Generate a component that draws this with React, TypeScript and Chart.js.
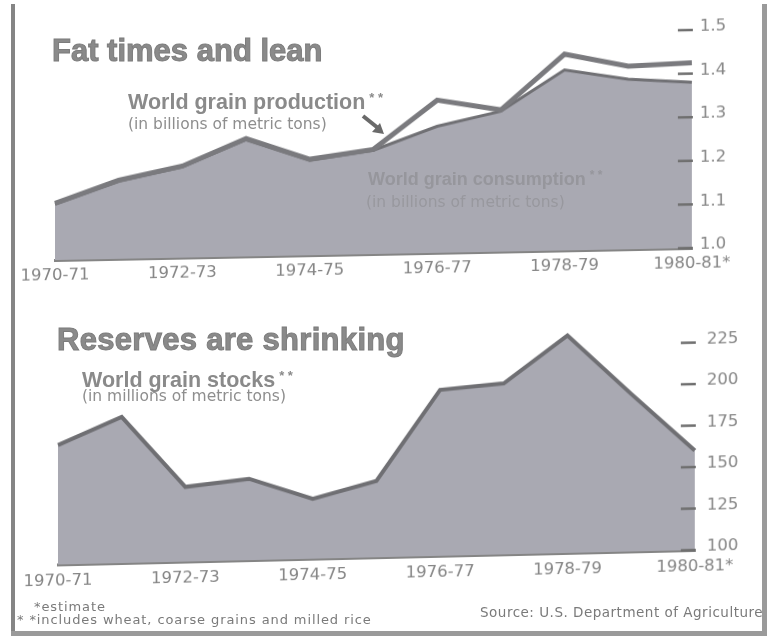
import React, { useEffect, useRef } from 'react';
import { Chart, registerables } from 'chart.js';

Chart.register(...registerables);

// ---- data ----
const years = ['1970-71', '1971-72', '1972-73', '1973-74', '1974-75', '1975-76', '1976-77', '1977-78', '1978-79', '1979-80', '1980-81*'];
const production = [1.13, 1.18, 1.21, 1.27, 1.22, 1.24, 1.35, 1.325, 1.45, 1.42, 1.425];
const consumption = [1.128, 1.178, 1.208, 1.268, 1.218, 1.238, 1.29, 1.322, 1.414, 1.39, 1.38];
const stocks = [172, 188, 145, 149, 136, 146, 200, 203, 231, 195, 160];
const productionTicks = [1.0, 1.1, 1.2, 1.3, 1.4, 1.5];
const stockTicks = [100, 125, 150, 175, 200, 225];

const TEXT = '#858585';
const FILL = '#a9a9b2';

const tickDash = {
  id: 'tickDash',
  afterDatasetsDraw(chart: any) {
    const { ctx, chartArea, scales } = chart;
    const y = scales.y;
    ctx.save();
    ctx.strokeStyle = '#6f6f6f';
    ctx.lineWidth = 2.5;
    y.ticks.forEach((t: any) => {
      const py = y.getPixelForValue(t.value);
      ctx.beginPath();
      ctx.moveTo(chartArea.right - 14, py);
      ctx.lineTo(chartArea.right + 1, py);
      ctx.stroke();
    });
    ctx.restore();
  },
};

function baseOptions(opts: {
  padLeft: number; padTop: number; xHeight: number; yWidth: number;
  min: number; max: number; ticks: number[]; fmt: (v: number) => string;
  xPad: number; yPad: number;
}) {
  return {
    responsive: false,
    animation: false as const,
    layout: { padding: { left: opts.padLeft, top: opts.padTop, right: 0, bottom: 0 } },
    plugins: { legend: { display: false }, tooltip: { enabled: false } },
    elements: { point: { radius: 0 }, line: { tension: 0 } },
    scales: {
      x: {
        type: 'category' as const,
        offset: false,
        grid: { display: false, drawTicks: false },
        border: { display: true, color: '#858585', width: 3 },
        ticks: {
          autoSkip: false,
          maxRotation: 0,
          minRotation: 0,
          padding: opts.xPad,
          color: TEXT,
          font: { family: 'DejaVu Sans', size: 16.5 },
          callback: (_v: any, i: number) => (i % 2 === 0 ? years[i] : ''),
        },
        afterFit: (s: any) => { s.height = opts.xHeight; },
      },
      y: {
        position: 'right' as const,
        min: opts.min,
        max: opts.max,
        grid: { display: false, drawTicks: false },
        border: { display: false },
        afterBuildTicks: (s: any) => { s.ticks = opts.ticks.map((v) => ({ value: v })); },
        ticks: {
          padding: opts.yPad,
          labelOffset: -3,
          color: TEXT,
          font: { family: 'DejaVu Sans', size: 16.5 },
          callback: (v: any) => opts.fmt(Number(v)),
        },
        afterFit: (s: any) => { s.width = opts.yWidth; },
      },
    },
  };
}

function TopChart() {
  const ref = useRef<HTMLCanvasElement>(null);
  useEffect(() => {
    const chart = new Chart(ref.current!, {
      type: 'line',
      data: {
        labels: years,
        datasets: [
          {
            label: 'World grain production',
            data: production,
            borderColor: '#7a7a7e',
            borderWidth: 5,
            fill: false,
            pointRadius: 0,
          },
          {
            label: 'World grain consumption',
            data: consumption,
            borderColor: '#707074',
            borderWidth: 3,
            backgroundColor: FILL,
            fill: 'start',
            pointRadius: 0,
          },
        ],
      },
      options: baseOptions({
        padLeft: 55, padTop: 30, xHeight: 42, yWidth: 75,
        min: 1.0, max: 1.5, ticks: productionTicks, fmt: (v) => v.toFixed(1),
        xPad: 6, yPad: 8,
      }) as any,
      plugins: [tickDash],
    });
    return () => chart.destroy();
  }, []);
  return (
    <canvas
      ref={ref}
      width={767}
      height={290}
      style={{ position: 'absolute', left: 0, top: 0, width: 767, height: 290, transform: 'skewY(-1.08deg)', transformOrigin: '692px 0px' }}
    />
  );
}

function BottomChart() {
  const ref = useRef<HTMLCanvasElement>(null);
  useEffect(() => {
    const chart = new Chart(ref.current!, {
      type: 'line',
      data: {
        labels: years,
        datasets: [
          {
            label: 'World grain stocks',
            data: stocks,
            borderColor: '#6f6f73',
            borderWidth: 4,
            backgroundColor: FILL,
            fill: 'start',
            pointRadius: 0,
          },
        ],
      },
      options: baseOptions({
        padLeft: 58, padTop: 26, xHeight: 40, yWidth: 72,
        min: 100, max: 235, ticks: stockTicks, fmt: (v) => String(v),
        xPad: 7, yPad: 12,
      }) as any,
      plugins: [tickDash],
    });
    return () => chart.destroy();
  }, []);
  return (
    <canvas
      ref={ref}
      width={767}
      height={290}
      style={{ position: 'absolute', left: 0, top: 300, width: 767, height: 290, transform: 'skewY(-1.3deg)', transformOrigin: '695px 0px' }}
    />
  );
}

const abs = (left: number, top: number, extra: React.CSSProperties = {}): React.CSSProperties => ({
  position: 'absolute', left, top, lineHeight: 1, whiteSpace: 'nowrap', margin: 0, ...extra,
});

const titleStyle: React.CSSProperties = {
  fontFamily: '"Liberation Sans", Arial, sans-serif',
  fontWeight: 700,
  fontSize: 31,
  color: '#8a8a8a',
  WebkitTextStroke: '1px #7c7c7c',
};
const subStyle: React.CSSProperties = {
  fontFamily: '"Liberation Sans", Arial, sans-serif',
  fontWeight: 700,
  fontSize: 21.5,
  color: '#8a8a8a',
};
const noteStyle: React.CSSProperties = {
  fontFamily: '"DejaVu Sans", sans-serif',
  fontSize: 15.5,
  color: '#8e8e8e',
};
const footStyle: React.CSSProperties = {
  fontFamily: '"DejaVu Sans", sans-serif',
  fontSize: 13,
  letterSpacing: 0.9,
  color: '#7a7a7a',
};

export default function App() {
  return (
    <div style={{ position: 'absolute', left: 0, top: 0, width: 767, height: 641, background: '#ffffff', overflow: 'hidden' }}>
      <TopChart />
      <BottomChart />

      {/* frame */}
      <div style={{ position: 'absolute', left: 11, top: 4, width: 4, height: 632, background: '#858585' }} />
      <div style={{ position: 'absolute', left: 762, top: 4, width: 5, height: 632, background: '#9a9a9a' }} />
      <div style={{ position: 'absolute', left: 11, top: 631, width: 756, height: 5, background: '#9a9a9a' }} />

      {/* top panel texts */}
      <div style={abs(52, 35, titleStyle)}>Fat times and lean</div>
      <div style={abs(128, 92, subStyle)}>
        World grain production
        <span style={{ fontSize: 13, position: 'relative', top: -7, marginLeft: 4 }}>* *</span>
      </div>
      <div style={abs(128, 117, noteStyle)}>(in billions of metric tons)</div>
      <svg style={{ position: 'absolute', left: 360, top: 113 }} width={28} height={24} viewBox="0 0 28 24">
        <line x1={3} y1={3} x2={18} y2={15} stroke="#6a6a6a" strokeWidth={4} />
        <polygon points="24,21 12,19 20,10" fill="#6a6a6a" />
      </svg>
      <div style={abs(368, 170, { ...subStyle, fontSize: 18, color: '#96969c' })}>
        World grain consumption
        <span style={{ fontSize: 12, position: 'relative', top: -6, marginLeft: 4 }}>* *</span>
      </div>
      <div style={abs(366, 195, { ...noteStyle, color: '#98989e' })}>(in billions of metric tons)</div>

      {/* bottom panel texts */}
      <div style={abs(57, 324, { ...titleStyle, letterSpacing: 0.3 })}>Reserves are shrinking</div>
      <div style={abs(82, 370, subStyle)}>
        World grain stocks
        <span style={{ fontSize: 13, position: 'relative', top: -7, marginLeft: 4 }}>* *</span>
      </div>
      <div style={abs(82, 389, noteStyle)}>(in millions of metric tons)</div>

      {/* footnotes */}
      <div style={abs(34, 600, footStyle)}>*estimate</div>
      <div style={abs(17, 613, footStyle)}>* *includes wheat, coarse grains and milled rice</div>
      <div style={abs(480, 606, { ...footStyle, fontSize: 13.5, letterSpacing: 0.5 })}>Source: U.S. Department of Agriculture</div>
    </div>
  );
}
